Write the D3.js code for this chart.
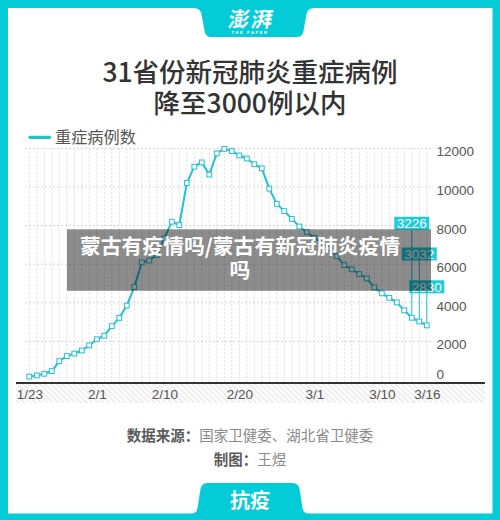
<!DOCTYPE html>
<html>
<head>
<meta charset="utf-8">
<script src="https://cdn.jsdelivr.net/npm/d3@7"></script>
<style>
  html, body { margin: 0; padding: 0; background: #fff; }
  svg { display: block; }
  text { font-family: "Liberation Sans", "Noto Sans CJK SC", sans-serif; }
  .cjk { font-family: "Noto Sans CJK SC", sans-serif; }
</style>
</head>
<body>
<svg id="chart" width="500" height="520"></svg>
<script>
// ---------- data ----------
const dateLabels = [
  "1/23","1/24","1/25","1/26","1/27","1/28","1/29","1/30","1/31",
  "2/1","2/2","2/3","2/4","2/5","2/6","2/7","2/8","2/9","2/10",
  "2/11","2/12","2/13","2/14","2/15","2/16","2/17","2/18","2/19","2/20",
  "2/21","2/22","2/23","2/24","2/25","2/26","2/27","2/28","2/29",
  "3/1","3/2","3/3","3/4","3/5","3/6","3/7","3/8","3/9","3/10",
  "3/11","3/12","3/13","3/14","3/15","3/16"
];
const severeCases = [
  177, 237, 324, 461, 976, 1239, 1370, 1527, 1795,
  2110, 2296, 2788, 3219, 3859, 4821, 6101, 6188, 6484, 7333,
  8204, 8030, 10204, 11053, 11272, 10644, 11741, 11977, 11864, 11633,
  11477, 11178, 10968, 9915, 9126, 8752, 8346, 7952, 7664,
  7365, 7110, 6806, 6416, 5952, 5737, 5489, 5264, 4794, 4492,
  4257, 4020, 3610, 3226, 3032, 2830
];
const xTickLabels = ["1/23","2/1","2/10","2/20","3/1","3/10","3/16"];
const yTickValues = [0, 2000, 4000, 6000, 8000, 10000, 12000];
const annotatedLabels = ["3/14","3/15","3/16"];
const seriesName = "重症病例数";
const titleLines = ["31省份新冠肺炎重症病例", "降至3000例以内"];
const overlayLines = ["蒙古有疫情吗/蒙古有新冠肺炎疫情", "吗"];

// ---------- setup ----------
const TEAL = "#03cbd8";
const LINE = "#22c1ce";
const svg = d3.select("#chart");
const parse = s => d3.timeParse("%Y/%m/%d")("2020/" + s);
const data = dateLabels.map((s, i) => ({ label: s, date: parse(s), value: severeCases[i] }));

const x = d3.scaleTime()
  .domain([parse(dateLabels[0]), parse(dateLabels[dateLabels.length - 1])])
  .range([29.3, 426.8]);
const y = d3.scaleLinear().domain([0, 12000]).range([380, 148.4]);

// frame
svg.append("rect").attr("width", 500).attr("height", 520).attr("fill", TEAL);
svg.append("rect").attr("x", 8).attr("y", 8).attr("width", 484.5).attr("height", 505.5).attr("fill", "#fff");

// top tab
svg.append("path")
  .attr("d", "M193,8 Q200.5,8 201.5,14 L204.5,31 Q205.5,37 211.5,37 L296.5,37 Q302.5,37 303.5,31 L306.5,14 Q307.5,8 315,8 Z")
  .attr("fill", TEAL);
svg.append("text").attr("class", "cjk")
  .attr("x", 250).attr("y", 27).attr("text-anchor", "middle")
  .attr("font-size", 21).attr("font-weight", 700).attr("fill", "#fff")
  .attr("transform", "translate(5,0) skewX(-10)")
  .attr("letter-spacing", 2)
  .text("澎湃");
svg.append("text")
  .attr("x", 250).attr("y", 33.5).attr("text-anchor", "middle")
  .attr("font-size", 4).attr("font-weight", 700).attr("fill", "#fff")
  .attr("letter-spacing", 1.6)
  .text("THE PAPER");

// title
titleLines.forEach((t, i) => {
  svg.append("text").attr("class", "cjk")
    .attr("x", 250).attr("y", 81.5 + i * 31.5).attr("text-anchor", "middle")
    .attr("font-size", 26.5).attr("font-weight", 500).attr("fill", "#333")
    .text(t);
});

// legend
svg.append("line").attr("x1", 30).attr("x2", 49.5).attr("y1", 137.3).attr("y2", 137.3)
  .attr("stroke", LINE).attr("stroke-width", 3.2).attr("stroke-linecap", "round");
svg.append("text").attr("class", "cjk")
  .attr("x", 55).attr("y", 143).attr("font-size", 16.2).attr("fill", "#555")
  .text(seriesName);

// grid
const grid = svg.append("g");
grid.selectAll("line.v").data(data).join("line").attr("class", "v")
  .attr("x1", d => x(d.date)).attr("x2", d => x(d.date))
  .attr("y1", y(12000)).attr("y2", y(0) + 2.5)
  .attr("stroke", "#d6d6d6").attr("stroke-width", 0.9).attr("stroke-dasharray", "2,2");
grid.selectAll("line.h").data(yTickValues.filter(v => v > 0)).join("line").attr("class", "h")
  .attr("x1", 25).attr("x2", 431)
  .attr("y1", d => y(d)).attr("y2", d => y(d))
  .attr("stroke", "#d0d0d0").attr("stroke-width", 0.9).attr("stroke-dasharray", "2,2");

// hatched axis band
const defs = svg.append("defs");
const pat = defs.append("pattern").attr("id", "hatch").attr("patternUnits", "userSpaceOnUse")
  .attr("width", 4).attr("height", 4).attr("patternTransform", "rotate(-45)");
pat.append("rect").attr("width", 4).attr("height", 4).attr("fill", "#fbfbfb");
pat.append("line").attr("x1", 0).attr("x2", 0).attr("y1", 0).attr("y2", 4)
  .attr("stroke", "#e2e2e2").attr("stroke-width", 1.6);
svg.append("rect").attr("x", 16).attr("y", 383).attr("width", 469).attr("height", 20)
  .attr("fill", "url(#hatch)");

// x axis
const xAxis = d3.axisBottom(x)
  .tickValues(xTickLabels.map(parse))
  .tickFormat(d3.timeFormat("%-m/%-d"))
  .tickSize(0).tickPadding(0);
const gx = svg.append("g").attr("transform", "translate(0,383)").call(xAxis);
gx.select(".domain").remove();
gx.append("line").attr("x1", 16).attr("x2", 485).attr("y1", 0).attr("y2", 0)
  .attr("stroke", "#333").attr("stroke-width", 2);
gx.selectAll("text").attr("dy", 0).attr("y", 16).attr("font-size", 13.5)
  .attr("fill", "#555").attr("font-family", "Liberation Sans, sans-serif");

// y axis
const yAxis = d3.axisRight(y).tickValues(yTickValues).tickFormat(d3.format("d"))
  .tickSize(0).tickPadding(0);
const gy = svg.append("g").attr("transform", "translate(436.5,0)").call(yAxis);
gy.select(".domain").remove();
gy.selectAll("text").attr("font-size", 13.5).attr("fill", "#555")
  .attr("font-family", "Liberation Sans, sans-serif")
  .attr("dy", "0.35em")
  .attr("y", d => d === 0 ? -6.7 : 2.7);

// line
svg.append("path").datum(data)
  .attr("fill", "none").attr("stroke", LINE).attr("stroke-width", 2)
  .attr("stroke-linejoin", "round")
  .attr("d", d3.line().x(d => x(d.date)).y(d => y(d.value)));

// annotation leaders and boxes
const annBoxValue = { "3/14": 8120, "3/15": 6530, "3/16": 4830 };
const ann = data.filter(d => annotatedLabels.includes(d.label));
svg.selectAll("line.ann").data(ann).join("line").attr("class", "ann")
  .attr("x1", d => x(d.date)).attr("x2", d => x(d.date))
  .attr("y1", d => y(annBoxValue[d.label]) + 6).attr("y2", d => y(d.value))
  .attr("stroke", LINE).attr("stroke-width", 1);

// markers
svg.selectAll("rect.pt").data(data).join("rect").attr("class", "pt")
  .attr("x", d => x(d.date) - 2.4).attr("y", d => y(d.value) - 2.4)
  .attr("width", 4.8).attr("height", 4.8)
  .attr("fill", "#fff").attr("stroke", LINE).attr("stroke-width", 1);

const annG = svg.selectAll("g.annbox").data(ann).join("g").attr("class", "annbox")
  .attr("transform", d => `translate(${x(d.date)},${y(annBoxValue[d.label])})`);
annG.append("rect").attr("x", -17.5).attr("y", -6.5).attr("width", 35).attr("height", 13)
  .attr("fill", "#1fcbd9");
annG.append("text").attr("text-anchor", "middle").attr("y", 5)
  .attr("font-size", 13.5).attr("fill", "#fff")
  .attr("font-family", "Liberation Sans, sans-serif")
  .text(d => d.value);

// footer
const f1 = svg.append("text").attr("class", "cjk").attr("x", 250).attr("y", 441)
  .attr("text-anchor", "middle").attr("font-size", 14.5);
f1.append("tspan").attr("font-weight", 700).attr("fill", "#5a5a5a").text("数据来源：");
f1.append("tspan").attr("fill", "#8a8a8a").text("国家卫健委、湖北省卫健委");
const f2 = svg.append("text").attr("class", "cjk").attr("x", 250).attr("y", 465)
  .attr("text-anchor", "middle").attr("font-size", 14.5);
f2.append("tspan").attr("font-weight", 700).attr("fill", "#5a5a5a").text("制图：");
f2.append("tspan").attr("fill", "#8a8a8a").text("王煜");

// bottom tab
svg.append("path")
  .attr("d", "M190,514 Q196.5,514 197.5,508 L200.5,489 Q201.5,483 207.5,483 L292.5,483 Q298.5,483 299.5,489 L302.5,508 Q303.5,514 310,514 Z")
  .attr("fill", TEAL);
svg.append("text").attr("class", "cjk")
  .attr("x", 250).attr("y", 507.5).attr("text-anchor", "middle")
  .attr("font-size", 20).attr("font-weight", 700).attr("fill", "#fff")
  .text("抗疫");

// watermark overlay
svg.append("rect").attr("x", 67).attr("y", 229.3).attr("width", 364).attr("height", 61.5)
  .attr("fill", "#000").attr("fill-opacity", 0.45);
overlayLines.forEach((t, i) => {
  svg.append("text").attr("class", "cjk")
    .attr("x", 240).attr("y", 253.5 + i * 24).attr("text-anchor", "middle")
    .attr("font-size", 20.8).attr("font-weight", 700).attr("fill", "#fff")
    .text(t);
});
</script>
</body>
</html>
